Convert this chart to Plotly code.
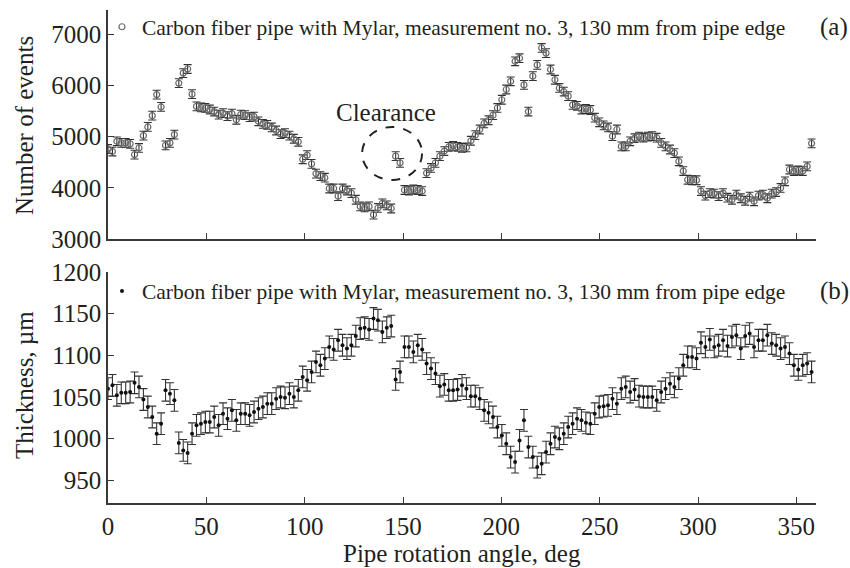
import plotly.graph_objects as go

STEP = 2.25
N = 160
angles = [i * STEP for i in range(N)]

events = [
    4760, 4710, 4910, 4880, 4880, 4860, 4650, 4780, 5020, 5190,
    5410, 5820, 5580, 4830, 4880, 5040, 6045, 6240, 6320, 5830,
    5590, 5570, 5560, 5530, 5490, 5430, 5460, 5400, 5450, 5330,
    5430, 5420, 5380, 5390, 5300, 5250, 5230, 5180, 5120, 5050,
    5070, 5020, 4960, 4900, 4560, 4640, 4470, 4280, 4230, 4200,
    3990, 3990, 3840, 3990, 3950, 3900, 3770, 3640, 3620, 3640,
    3480, 3610, 3700, 3660, 3600, 4620, 4490, 3960, 3950, 3970,
    3960, 3940, 4290, 4390, 4490, 4620, 4720, 4800, 4820, 4800,
    4780, 4790, 4920, 5030, 5140, 5260, 5320, 5420, 5560, 5720,
    5920, 6080, 6470, 6530, 6010, 5490, 6180, 6400, 6730, 6630,
    6310, 6110, 5950, 5880, 5790, 5620, 5600, 5530, 5540, 5520,
    5370, 5280, 5220, 5180, 5010, 5140, 4810, 4810, 4910, 4970,
    5000, 4980, 5000, 5010, 4980, 4880, 4810, 4750, 4680, 4520,
    4330, 4160, 4150, 4150, 3940, 3850, 3900, 3890, 3840, 3900,
    3810, 3770, 3870, 3800, 3750, 3830, 3740, 3850, 3870, 3800,
    3890, 3920, 4000, 4130, 4360, 4330, 4340, 4330, 4420, 4870,
]
events_err = 85

thickness = [
    1060, 1064, 1052, 1055, 1055, 1056, 1067, 1062, 1047, 1038,
    1026, 1006, 1018, 1058, 1054, 1046, 995, 986, 983, 1006,
    1016, 1018, 1020, 1020, 1026, 1016, 1030, 1024, 1034, 1022,
    1030, 1030, 1028, 1032, 1036, 1038, 1042, 1042, 1048, 1050,
    1049, 1054, 1050, 1058, 1074, 1070, 1080, 1092, 1088, 1096,
    1110, 1107, 1118, 1112, 1108, 1112, 1123, 1132, 1133, 1131,
    1144, 1142, 1128, 1133, 1135, 1071, 1080, 1110, 1110, 1104,
    1112, 1107, 1090, 1084, 1078, 1063, 1065, 1058, 1058, 1059,
    1064, 1060, 1051, 1051, 1048, 1034, 1031, 1026, 1014, 1004,
    994, 978, 972, 998, 1022, 990, 978, 966, 970, 984,
    994, 1002, 1000, 1006, 1014, 1018, 1024, 1022, 1019, 1018,
    1030, 1038, 1039, 1040, 1048, 1042, 1060, 1062, 1056, 1059,
    1051, 1050, 1050, 1050, 1046, 1056, 1060, 1066, 1062, 1072,
    1088, 1098, 1098, 1096, 1115, 1110, 1119, 1110, 1112, 1118,
    1111, 1122, 1124, 1108, 1123, 1126, 1110, 1118, 1118, 1124,
    1114, 1112, 1108, 1110, 1102, 1088, 1083, 1088, 1090, 1080,
]
thickness_err = 13

label = "Carbon fiber pipe with Mylar, measurement no. 3, 130 mm from pipe edge"
x_ticks = [0, 50, 100, 150, 200, 250, 300, 350]
y1_ticks = [3000, 4000, 5000, 6000, 7000]
y2_ticks = [950, 1000, 1050, 1100, 1150, 1200]

FONT = "Liberation Serif"
TXT = "#231f20"
AX = "#3a3a3a"

fig = go.Figure()
fig.add_trace(go.Scatter(
    x=angles, y=events, mode="markers", name=label,
    marker=dict(symbol="circle-open", size=6, color="#6a6a6a", line=dict(width=1.2)),
    error_y=dict(type="constant", value=events_err, width=4, thickness=1.1, color="#333333"),
    xaxis="x", yaxis="y", legend="legend",
))
fig.add_trace(go.Scatter(
    x=angles, y=thickness, mode="markers", name=label,
    marker=dict(symbol="circle", size=4, color="#111111"),
    error_y=dict(type="constant", value=thickness_err, width=4, thickness=1.1, color="#333333"),
    xaxis="x2", yaxis="y2", legend="legend2",
))

axis_common = dict(showline=True, linecolor=AX, linewidth=1.5, ticks="inside",
                   ticklen=6, tickwidth=1.2, tickcolor=AX, showgrid=False,
                   zeroline=False, mirror=False, automargin=False,
                   tickfont=dict(family=FONT, size=25, color=TXT))

fig.update_layout(
    width=850, height=568,
    margin=dict(l=108, r=34, t=10, b=65, autoexpand=False),
    paper_bgcolor="white", plot_bgcolor="white",
    font=dict(family=FONT, color=TXT),
    xaxis=dict(domain=[0, 1], range=[0, 360], tickvals=x_ticks, showticklabels=False,
               anchor="y", **axis_common),
    yaxis=dict(domain=[0.535, 1], range=[3000, 7470], tickvals=y1_ticks, anchor="x",
               **axis_common),
    xaxis2=dict(domain=[0, 1], range=[0, 360], tickvals=x_ticks, anchor="y2",
                **axis_common),
    yaxis2=dict(domain=[0, 0.469], range=[923, 1200], tickvals=y2_ticks, anchor="x2",
                **axis_common),
    legend=dict(x=-0.0085, y=0.966, xanchor="left", yanchor="middle", bgcolor="rgba(0,0,0,0)",
                font=dict(family=FONT, size=21.5, color=TXT), itemwidth=30, tracegroupgap=0),
    legend2=dict(x=-0.0085, y=0.43, xanchor="left", yanchor="middle", bgcolor="rgba(0,0,0,0)",
                 font=dict(family=FONT, size=21.5, color=TXT), itemwidth=30, tracegroupgap=0),
    showlegend=True,
)

annots = [
    dict(text="Number of events", x=24, y=126, textangle=-90, size=25),
    dict(text="Thickness, µm", x=24, y=385, textangle=-90, size=25),
    dict(text="Pipe rotation angle, deg", x=462, y=553, textangle=0, size=25),
    dict(text="(a)", x=834, y=27, textangle=0, size=25),
    dict(text="(b)", x=834, y=291, textangle=0, size=25),
]
for a in annots:
    fig.add_annotation(text=a["text"], xref="paper", yref="paper",
                       x=(a["x"] - 108) / 708, y=(503 - a["y"]) / 493,
                       xanchor="center", yanchor="middle", showarrow=False,
                       textangle=a["textangle"],
                       font=dict(family=FONT, size=a["size"], color=TXT))

fig.add_annotation(text="Clearance", xref="x", yref="y", x=141.4, y=5481,
                   showarrow=False, xanchor="center", yanchor="middle",
                   font=dict(family=FONT, size=25, color=TXT))
fig.add_shape(type="circle", xref="x", yref="y", x0=129.2, x1=159.7, y0=4156, y1=5189,
              line=dict(color="#222222", width=2, dash="dash"))

fig.write_html("out.html")
